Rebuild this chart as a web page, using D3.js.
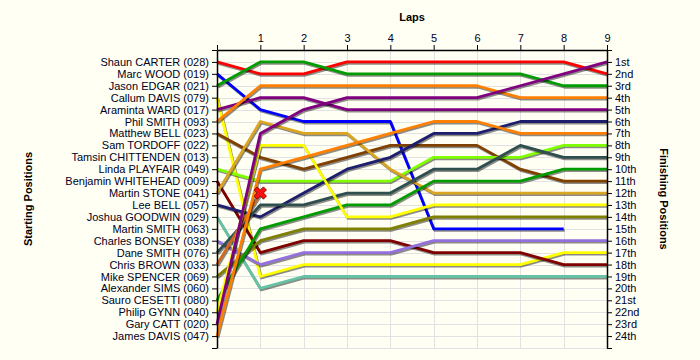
<!DOCTYPE html>
<html>
<head>
<meta charset="utf-8">
<script src="https://cdn.jsdelivr.net/npm/d3@7"></script>
<style>
	body { margin: 0; background: #fffff4; }
	svg { display: block; font-family: Arial, "Liberation Sans", sans-serif; }
</style>
</head>
<body>
<div id="lapChart"></div>
<script>
// starting grid, in order of starting position
const drivers = [
	"Shaun CARTER (028)", "Marc WOOD (019)", "Jason EDGAR (021)", "Callum DAVIS (079)",
	"Araminta WARD (017)", "Phil SMITH (093)", "Matthew BELL (023)", "Sam TORDOFF (022)",
	"Tamsin CHITTENDEN (013)", "Linda PLAYFAIR (049)", "Benjamin WHITEHEAD (009)", "Martin STONE (041)",
	"Lee BELL (057)", "Joshua GOODWIN (029)", "Martin SMITH (063)", "Charles BONSEY (038)",
	"Dane SMITH (076)", "Chris BROWN (033)", "Mike SPENCER (069)", "Alexander SIMS (060)",
	"Sauro CESETTI (080)", "Philip GYNN (040)", "Gary CATT (020)", "James DAVIS (047)"
];
// position at the end of each lap (lap 0 = grid), empty = did not start
const lapPositions = [
	[1, 2, 2, 1, 1, 1, 1, 1, 1, 2],
	[2, 5, 6, 6, 6, 15, 15, 15, 15],
	[3, 1, 1, 2, 2, 2, 2, 2, 3, 3],
	[4, 19, 18, 18, 18, 18, 18, 18, 17, 17],
	[5, 4, 4, 5, 5, 5, 5, 5, 5, 5],
	[6, 3, 3, 3, 3, 3, 3, 4, 4, 4],
	[7, 9, 10, 9, 8, 8, 8, 10, 11, 11],
	[],
	[],
	[10, 11, 11, 11, 11, 9, 9, 9, 8, 8],
	[11, 17, 16, 16, 16, 17, 17, 17, 18, 18],
	[12, 6, 7, 7, 10, 12, 12, 12, 12, 12],
	[13, 14, 12, 10, 9, 7, 7, 6, 6, 6],
	[14, 20, 19, 19, 19, 19, 19, 19, 19, 19],
	[],
	[16, 18, 17, 17, 17, 16, 16, 16, 16, 16],
	[17, 13, 13, 12, 12, 10, 10, 8, 9, 9],
	[18, 12],
	[19, 16, 15, 15, 15, 14, 14, 14, 14, 14],
	[],
	[21, 15, 14, 13, 13, 11, 11, 11, 10, 10],
	[22, 8, 8, 14, 14, 13, 13, 13, 13, 13],
	[23, 7, 5, 4, 4, 4, 4, 3, 2, 1],
	[24, 10, 9, 8, 7, 6, 6, 7, 7, 7]
];
// retirements: [lap, position]
const retirements = [[1, 12]];
const finishLabels = ["1st", "2nd", "3rd", "4th", "5th", "6th", "7th", "8th", "9th", "10th", "11th", "12th",
	"13th", "14th", "15th", "16th", "17th", "18th", "19th", "20th", "21st", "22nd", "23rd", "24th"];
const lapTicks = [0, 1, 2, 3, 4, 5, 6, 7, 8, 9];

const driverColors = [
	"#ff0000", "#0000ff", "#009c00", "#ffff00", "#800080", "#ff8000", "#804000", "#888888",
	"#888888", "#80ff00", "#800000", "#daa520", "#1e1e6e", "#66c2a5", "#888888", "#9370db",
	"#2f4f4f", "#d2691e", "#808000", "#888888", "#009c00", "#ffff00", "#800080", "#ff8000"
];

const chartWidth = 700;
const chartHeight = 360;
const plotLeft = 217;
const plotRight = 607;
const plotTop = 50;
const plotBottom = 348;

let gSvg = d3
	.select("#lapChart")
	.append("svg")
	.attr("width", chartWidth)
	.attr("height", chartHeight);

gSvg.append("rect").attr("width", chartWidth).attr("height", chartHeight).attr("fill", "#fffff4");

const xScale = d3.scaleLinear().domain([0, 9]).range([plotLeft, plotRight]);
const yScale = d3.scaleLinear().domain([0, drivers.length + 1]).range([plotTop, plotBottom]);
const posTicks = d3.range(0, drivers.length + 2);

// grid
const grid = gSvg.append("g").attr("stroke", "#e2e2e2").attr("stroke-width", 1);
grid.selectAll(".hgrid")
	.data(posTicks)
	.enter()
	.append("line")
	.attr("x1", plotLeft)
	.attr("x2", plotRight)
	.attr("y1", (d) => Math.round(yScale(d)) + 0.5)
	.attr("y2", (d) => Math.round(yScale(d)) + 0.5);
grid.selectAll(".vgrid")
	.data(lapTicks)
	.enter()
	.append("line")
	.attr("y1", plotTop)
	.attr("y2", plotBottom)
	.attr("x1", (d) => Math.round(xScale(d)) + 0.5)
	.attr("x2", (d) => Math.round(xScale(d)) + 0.5);

// lines
const lapLine = d3
	.line()
	.x((_d, i) => xScale(i))
	.y((d) => yScale(d));

const racers = lapPositions.map((p, i) => ({ name: drivers[i], laps: p, color: driverColors[i] })).filter((d) => d.laps.length > 1);

const lineArea = gSvg.append("g").attr("fill", "none").attr("stroke-linejoin", "round");
racers.forEach((d) => {
	const g = lineArea.append("g");
	g.append("path")
		.attr("d", lapLine(d.laps))
		.attr("transform", "translate(1,1.5)")
		.attr("stroke", "rgba(0,0,0,0.45)")
		.attr("stroke-width", 2.8);
	g.append("path")
		.attr("d", lapLine(d.laps))
		.attr("stroke", d.color)
		.attr("stroke-width", 2.8);
});

// retirement markers
const crossSym = d3.symbol().type(d3.symbolCross).size(95);
gSvg.selectAll(".retired")
	.data(retirements)
	.enter()
	.append("path")
	.attr("d", crossSym)
	.attr("transform", (d) => `translate(${xScale(d[0])},${yScale(d[1])}) rotate(45)`)
	.attr("fill", "#ff1010")
	.attr("stroke", "#700000")
	.attr("stroke-width", 0.8);

// axes
function styleAxis(g) {
	g.selectAll("text").attr("font-size", 11).attr("font-family", "Arial, 'Liberation Sans', sans-serif").attr("fill", "#000022");
	g.selectAll("line").attr("stroke", "#000");
	g.select(".domain").attr("stroke", "#000").attr("stroke-width", 1.5);
}

gSvg.append("g")
	.attr("transform", `translate(${plotLeft},0)`)
	.call(d3.axisLeft(yScale).tickValues(posTicks).tickSize(5).tickSizeOuter(0).tickPadding(3)
		.tickFormat((d) => drivers[d - 1] || ""))
	.call(styleAxis);

gSvg.append("g")
	.attr("transform", `translate(${plotRight},0)`)
	.call(d3.axisRight(yScale).tickValues(posTicks).tickSize(5).tickSizeOuter(0).tickPadding(3)
		.tickFormat((d) => finishLabels[d - 1] || ""))
	.call(styleAxis);

gSvg.append("g")
	.attr("transform", `translate(0,${plotTop})`)
	.call(d3.axisTop(xScale).tickValues(lapTicks).tickSize(5).tickSizeOuter(0).tickPadding(3)
		.tickFormat((d) => (d === 0 ? "" : d)))
	.call(styleAxis);

// titles
gSvg.append("text")
	.attr("x", (plotLeft + plotRight) / 2)
	.attr("y", 21)
	.attr("text-anchor", "middle")
	.attr("font-size", 11)
	.attr("font-weight", "bold")
	.text("Laps");
gSvg.append("text")
	.attr("transform", `translate(32,${(plotTop + plotBottom) / 2}) rotate(-90)`)
	.attr("text-anchor", "middle")
	.attr("font-size", 11)
	.attr("font-weight", "bold")
	.text("Starting Positions");
gSvg.append("text")
	.attr("transform", `translate(660,${(plotTop + plotBottom) / 2}) rotate(90)`)
	.attr("text-anchor", "middle")
	.attr("font-size", 11)
	.attr("font-weight", "bold")
	.text("Finishing Positions");
</script>
</body>
</html>
